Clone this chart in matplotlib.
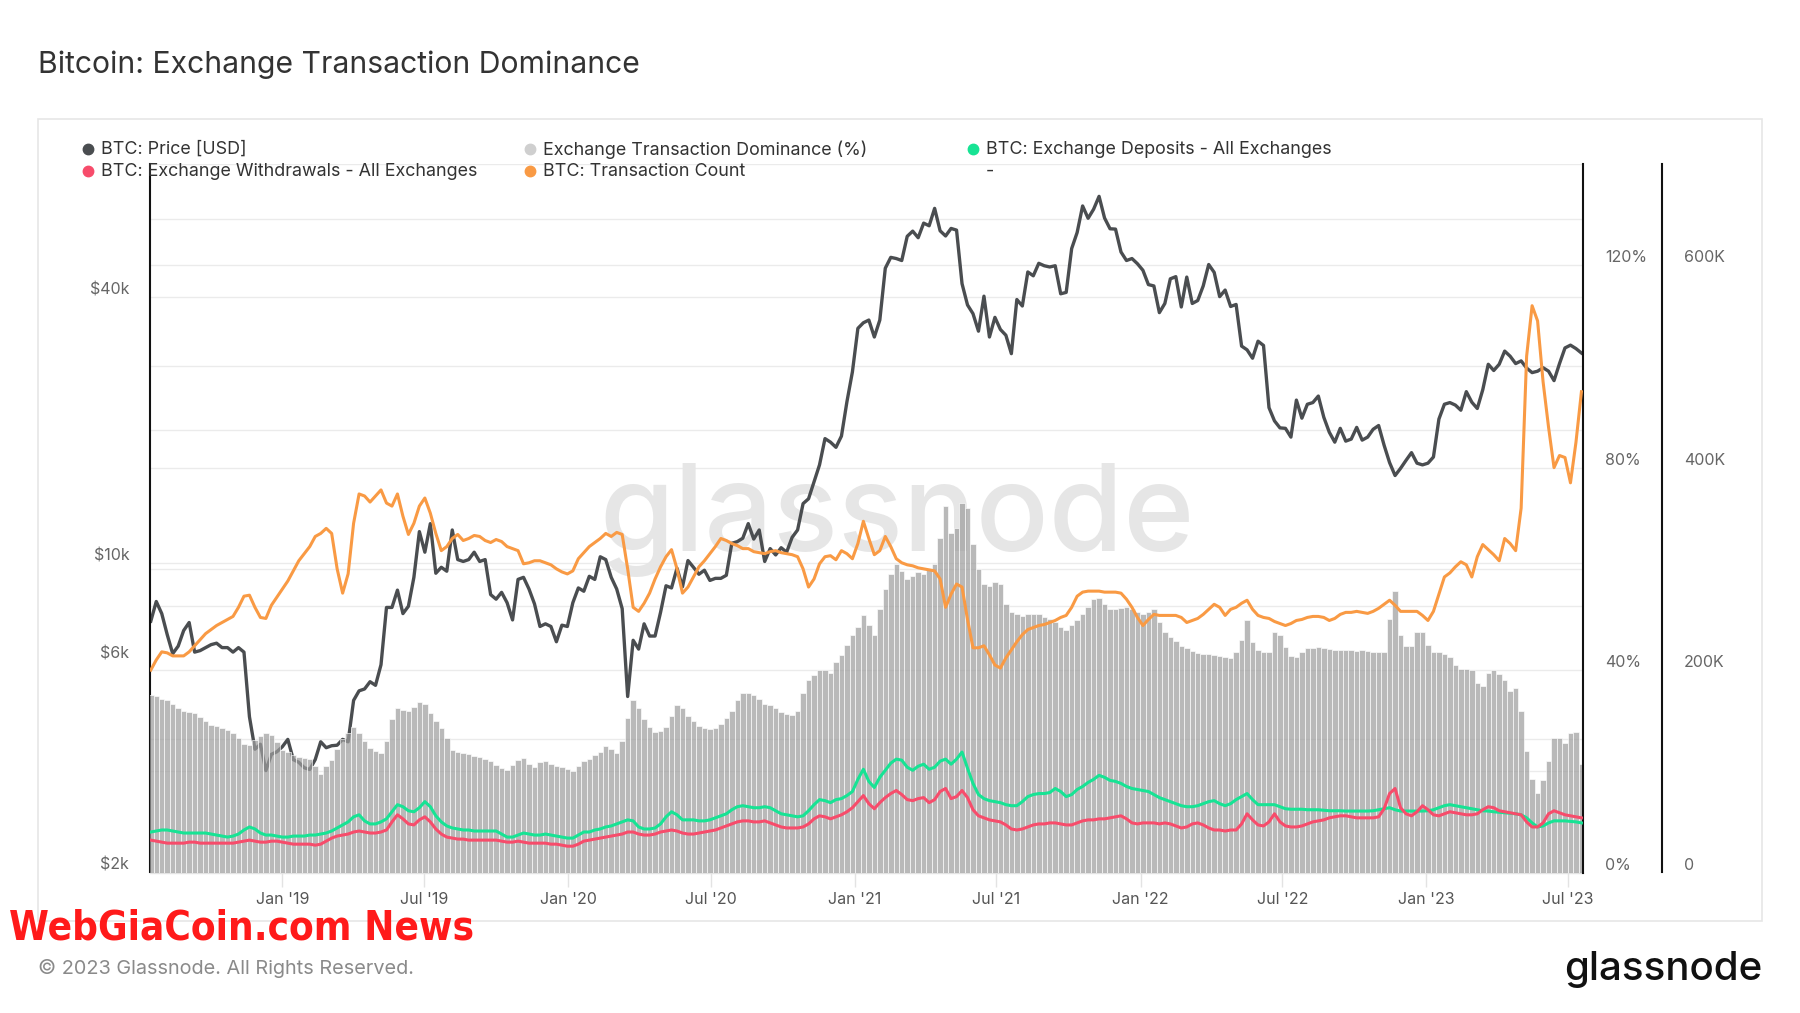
import matplotlib
matplotlib.use("Agg")
import matplotlib.pyplot as plt
from matplotlib.lines import Line2D
from matplotlib.patches import Rectangle
from matplotlib.ticker import FixedLocator, NullLocator
from matplotlib.transforms import blended_transform_factory
import matplotlib.dates as mdates
import pandas as pd

plt.rcParams['font.family'] = ['Inter', 'DejaVu Sans']

# ---------------- data (weekly samples) ----------------
dates = pd.date_range('2018-07-17', periods=262, freq='7D')

price_2018 = [7400, 8200, 7700, 6900, 6250, 6500, 7050, 7350, 6300, 6350, 6450, 6550,
              6600, 6450, 6450, 6300, 6450, 6300, 4500, 3800, 3900, 3400, 3700, 3750]
price_2019 = [3850, 4000, 3600, 3550, 3450, 3420, 3600, 3950, 3830, 3870, 3880, 4000, 3950,
              4900, 5150, 5200, 5400, 5300, 5900, 7950, 7950, 8700, 7700, 8000, 9300, 11800,
              10600, 12300, 9500, 9800, 9600, 11900, 10200, 10100, 10200, 10600, 10100, 10200,
              8500, 8300, 8600, 8150, 7450, 9200, 9300, 8750, 8100, 7200, 7300, 7200, 6650,
              7250, 7200]
price_2020 = [8150, 8800, 8650, 9350, 9200, 10350, 10200, 9300, 8750, 7900, 5000, 6700, 6400,
              7300, 6850, 6850, 7750, 8900, 8800, 9750, 8850, 10150, 9800, 9450, 9650, 9150,
              9250, 9250, 9400, 11100, 11200, 11400, 12300, 11350, 11900, 10100, 10800, 10450,
              10850, 10600, 11450, 11900, 13650, 14000, 15300, 16700, 19150, 18800, 18300,
              19400, 23200, 27100]
price_2021 = [34000, 35000, 35500, 32500, 35500, 46500, 49200, 48900, 48400, 54900, 56400,
              54500, 58800, 58000, 63500, 56500, 55000, 57200, 56700, 42900, 38400, 36700,
              33500, 40200, 32500, 36000, 33800, 32800, 29800, 39500, 38200, 45600, 44700,
              47700, 47100, 46800, 47100, 40700, 41000, 51500, 56000, 64300, 60300, 63200,
              67600, 60400, 57100, 57000, 50600, 48400, 48900, 47600]
price_2022 = [46000, 42700, 42400, 36900, 38700, 44000, 44500, 38000, 44400, 38700, 39300,
              42400, 47400, 45500, 40100, 41500, 38100, 38500, 31000, 30400, 29100, 31800,
              31100, 22500, 21000, 20250, 20200, 19300, 23400, 21300, 22900, 23100, 23900,
              21400, 19800, 18800, 20200, 18900, 19100, 20300, 19000, 19300, 20100, 20500,
              18500, 16900, 15800, 16400, 17100, 17800, 16850, 16700]
price_2023 = [16850, 17400, 21200, 22900, 23100, 22800, 22200, 24450, 23150, 22400, 24700,
              28200, 27300, 28200, 30200, 29400, 28300, 28700, 27650, 27000, 27200, 27700,
              27200, 25900, 28300, 30700, 31150, 30600, 29900]
price_usd = price_2018 + price_2019 + price_2020 + price_2021 + price_2022 + price_2023

dom_2018 = [35.1, 34.8, 34.3, 34.0, 33.2, 32.5, 31.9, 31.7, 31.5, 30.8, 30.0, 29.2, 29.0, 28.6,
            28.2, 27.5, 26.5, 25.4, 25.2, 26.1, 27.0, 27.5, 27.2, 25.8]
dom_2019 = [24.3, 23.8, 23.3, 22.9, 22.7, 22.5, 21.0, 19.5, 21.0, 22.3, 24.5, 26.3, 27.5, 28.8,
            27.5, 26.0, 24.6, 24.0, 23.7, 26.0, 30.3, 32.5, 32.2, 31.9, 32.8, 33.6, 33.2, 31.5,
            30.0, 28.6, 26.5, 24.3, 23.9, 23.7, 23.4, 23.1, 22.8, 22.5, 22.0, 21.3, 20.6, 20.3,
            21.3, 22.2, 22.7, 21.5, 20.8, 21.8, 22.0, 21.5, 21.1, 20.8, 20.4]
dom_2020 = [20.0, 21.0, 22.0, 22.5, 23.2, 23.8, 24.9, 24.4, 23.7, 26.0, 30.5, 34.0, 32.5, 30.3,
            28.8, 27.8, 27.9, 28.8, 31.0, 33.0, 32.6, 31.0, 30.0, 29.0, 28.6, 28.3, 28.5, 29.3,
            30.6, 32.0, 34.0, 35.5, 35.4, 35.0, 34.2, 33.2, 33.0, 32.6, 31.8, 31.4, 31.2, 32.0,
            35.5, 38.0, 39.0, 40.0, 40.0, 39.5, 41.5, 43.0, 45.0, 47.0]
dom_2021 = [48.5, 50.8, 49.0, 47.0, 52.0, 56.0, 59.0, 61.0, 59.5, 58.0, 58.5, 59.3, 59.0, 60.0,
            61.0, 66.0, 72.5, 67.0, 68.0, 73.0, 72.0, 65.0, 60.0, 57.0, 56.6, 57.5, 57.0, 53.0,
            51.5, 51.0, 50.7, 51.0, 51.0, 51.0, 50.5, 50.0, 49.5, 48.5, 48.0, 49.0, 49.8, 51.0,
            52.5, 54.0, 54.3, 53.0, 52.0, 52.0, 52.3, 52.5, 52.0, 51.5]
dom_2022 = [51.0, 51.5, 52.0, 49.5, 47.5, 46.5, 45.8, 44.8, 44.3, 43.8, 43.4, 43.2, 43.1, 43.0,
            42.8, 42.5, 42.3, 43.5, 46.0, 49.8, 45.5, 44.0, 43.5, 43.5, 47.5, 47.0, 44.5, 42.8,
            42.6, 43.5, 44.3, 44.4, 44.5, 44.4, 44.2, 44.0, 43.9, 43.9, 44.0, 43.8, 43.9, 43.8,
            43.6, 43.5, 43.5, 50.0, 55.7, 47.0, 44.7, 44.7, 47.5, 47.5]
dom_2023 = [45.0, 43.5, 43.5, 43.2, 42.5, 41.0, 40.2, 40.2, 40.0, 37.5, 36.8, 39.5, 40.0, 39.2,
            38.0, 35.8, 36.5, 32.0, 24.0, 18.5, 15.7, 18.2, 22.0, 26.5, 26.5, 25.5, 27.5, 27.8,
            21.5]
dominance_pct = dom_2018 + dom_2019 + dom_2020 + dom_2021 + dom_2022 + dom_2023

tx_2018 = [200, 210, 218, 217, 214, 214, 214, 218, 224, 230, 236, 240, 244, 247, 250, 253,
           262, 273, 274, 262, 252, 251, 264, 272]
tx_2019 = [280, 288, 298, 308, 315, 322, 332, 335, 340, 335, 300, 276, 295, 345, 374, 372,
           366, 372, 378, 365, 362, 374, 352, 334, 345, 362, 370, 355, 335, 318, 322, 330,
           334, 328, 330, 333, 332, 328, 326, 329, 327, 322, 320, 318, 305, 306, 308, 308,
           306, 304, 300, 297, 295]
tx_2020 = [298, 310, 316, 322, 326, 330, 335, 332, 336, 334, 300, 262, 258, 266, 276, 290,
           302, 312, 319, 300, 276, 282, 292, 302, 308, 315, 322, 330, 328, 325, 323, 320,
           320, 317, 316, 315, 317, 318, 316, 315, 314, 312, 300, 282, 290, 305, 312, 313,
           309, 318, 315, 310]
tx_2021 = [325, 347, 330, 314, 318, 332, 322, 310, 306, 304, 303, 301, 300, 299, 298, 290,
           262, 275, 285, 282, 250, 222, 222, 224, 215, 205, 202, 212, 220, 228, 235, 240,
           242, 244, 245, 247, 249, 252, 254, 262, 273, 277, 278, 278, 278, 277, 277, 277,
           276, 270, 262, 252]
tx_2022 = [244, 250, 255, 254, 254, 254, 254, 252, 247, 249, 251, 255, 260, 265, 262, 254,
           260, 262, 266, 269, 260, 254, 252, 251, 248, 246, 244, 246, 249, 250, 252, 253,
           253, 252, 249, 251, 255, 257, 257, 258, 257, 256, 258, 261, 265, 269, 264, 258,
           258, 258, 258, 254]
tx_2023 = [249, 258, 275, 292, 296, 302, 307, 304, 292, 312, 324, 319, 314, 308, 330, 325,
           318, 360, 510, 560, 545, 485, 440, 400, 412, 410, 385, 425, 475]
tx_count_k = tx_2018 + tx_2019 + tx_2020 + tx_2021 + tx_2022 + tx_2023

dep_2018 = [40, 41, 42, 42, 41, 40, 39, 39, 39, 39, 39, 38, 37, 36, 35, 36, 38, 42, 45, 43,
            39, 37, 37, 36]
dep_2019 = [35, 35, 36, 36, 36, 37, 37, 38, 39, 41, 44, 47, 50, 55, 57, 51, 48, 48, 50, 53,
            60, 67, 65, 61, 60, 64, 70, 65, 56, 50, 46, 44, 43, 42, 42, 41, 41, 41, 41, 41,
            38, 35, 35, 37, 39, 38, 37, 37, 38, 37, 36, 35, 34]
dep_2020 = [34, 37, 40, 40, 42, 43, 45, 46, 48, 50, 52, 51, 45, 43, 43, 44, 48, 55, 60, 57,
            52, 52, 52, 51, 51, 52, 54, 56, 58, 62, 65, 66, 65, 64, 64, 65, 64, 61, 58, 57,
            56, 55, 56, 61, 67, 72, 71, 69, 72, 73, 76, 80]
dep_2021 = [92, 102, 90, 84, 94, 101, 108, 112, 111, 104, 101, 105, 107, 102, 104, 110, 112,
            107, 112, 119, 103, 88, 77, 73, 71, 70, 69, 67, 66, 66, 70, 75, 77, 78, 78, 79,
            83, 80, 75, 77, 82, 85, 89, 92, 96, 94, 91, 90, 88, 85, 83, 82]
dep_2022 = [81, 80, 77, 74, 72, 70, 68, 66, 65, 65, 66, 68, 70, 71, 68, 66, 68, 72, 75, 78,
            72, 67, 67, 67, 67, 65, 63, 62.5, 62.5, 62.5, 62, 62, 62, 61.5, 61, 61, 61, 60.7,
            60.7, 60.7, 60.7, 60.7, 61, 62, 63, 64, 62, 60.7, 60.7, 60.7, 60.7, 60.7]
dep_2023 = [61, 62, 64, 66, 67, 66, 65, 64, 63, 62, 61, 60.7, 60, 59.5, 59, 58.5, 58, 57, 54,
            49, 45, 46, 49, 51, 51, 51, 50.5, 50, 49]
deposits_k = dep_2018 + dep_2019 + dep_2020 + dep_2021 + dep_2022 + dep_2023

wd_2018 = [32, 31, 30, 29, 29, 29, 29, 30, 30, 29, 29, 29, 29, 29, 29, 29, 30, 31, 32, 31,
           30, 30, 31, 31]
wd_2019 = [30, 29, 28, 28, 28, 28, 27, 28, 31, 34, 36, 37, 38, 40, 41, 40, 39, 39, 40, 42,
           50, 57, 53, 48, 47, 52, 55, 50, 43, 38, 35, 34, 33, 33, 32, 32, 32, 32, 32, 32,
           31, 30, 30, 31, 30, 29, 29, 29, 29, 28, 28, 27, 26]
wd_2020 = [26, 28, 31, 32, 33, 34, 35, 36, 37, 38, 40, 40, 38, 37, 37, 38, 40, 41, 42, 41,
           39, 38, 38, 39, 40, 41, 42, 44, 46, 48, 50, 51, 51, 50, 50, 51, 49, 47, 45, 44,
           44, 44, 45, 48, 53, 56, 55, 53, 55, 57, 60, 64]
wd_2021 = [70, 76, 68, 63, 69, 74, 78, 81, 77, 72, 71, 73, 74, 69, 72, 80, 83, 73, 75, 81,
           74, 62, 56, 54, 52, 51, 50, 47, 43, 42, 43, 45, 47, 48, 48, 49, 49, 48, 47, 47,
           49, 51, 52, 52, 53, 53, 54, 55, 56, 53, 49, 48]
wd_2022 = [49, 49, 49, 48, 49, 48, 46, 44, 45, 48, 49, 47, 44, 42, 42, 41, 42, 42, 48, 58,
           52, 47, 46, 50, 58, 50, 46, 45, 45, 46, 48, 50, 51, 52, 54, 55, 56, 56, 55, 54,
           54, 54, 54, 55, 63, 78, 83, 64, 58, 56, 60, 66]
wd_2023 = [62, 57, 56, 58, 60, 59, 58, 57, 57, 58, 62, 65, 64, 61, 60, 59, 58, 57, 50, 45,
           45, 49, 58, 61, 59, 57, 56, 55, 54]
withdrawals_k = wd_2018 + wd_2019 + wd_2020 + wd_2021 + wd_2022 + wd_2023

x_tick_dates = pd.to_datetime(['2019-01-01', '2019-07-01', '2020-01-01', '2020-07-01',
                               '2021-01-01', '2021-07-01', '2022-01-01', '2022-07-01',
                               '2023-01-01', '2023-07-01'])
x_tick_labels = ["Jan '19", "Jul '19", "Jan '20", "Jul '20", "Jan '21", "Jul '21",
                 "Jan '22", "Jul '22", "Jan '23", "Jul '23"]
price_ticks = [2000, 6000, 10000, 40000]
price_tick_labels = ['$2k', '$6k', '$10k', '$40k']
price_grid = [4000, 8000, 10000, 20000, 40000, 60000]
pct_ticks = [0, 40, 80, 120]
pct_tick_labels = ['0%', '40%', '80%', '120%']
pct_grid = [20, 40, 60, 80, 100, 120, 140]
cnt_ticks = [0, 200, 400, 600]
cnt_tick_labels = ['0', '200K', '400K', '600K']

# ---------------- colours ----------------
C_PRICE = '#4a4d50'
C_DOM = '#9e9e9e'
C_DOM_LEG = '#cfcfcf'
C_DEP = '#17e394'
C_WD = '#f74c6b'
C_TX = '#f99a44'
C_GRID = '#ebebeb'
C_TICK = '#666666'

W, H = 1800, 1013
fig = plt.figure(figsize=(18, 10.13), dpi=100)
fig.patch.set_facecolor('white')

def fx(px):
    return px / W

def fy(py):
    return 1 - py / H

ax_p = fig.add_axes([fx(150), fy(872.5), fx(1583) - fx(150), fy(164) - fy(872.5)])
ax_d = ax_p.twinx()
ax_c = ax_p.twinx()
ax_p.set_zorder(1)
ax_d.set_zorder(2)
ax_c.set_zorder(3)
ax_d.patch.set_visible(False)
ax_c.patch.set_visible(False)

x0 = pd.Timestamp('2018-07-16')
x1 = pd.Timestamp('2023-07-20')

# ---- price axis (log) ----
ax_p.set_yscale('log')
ax_p.set_ylim(2000, 80000)
ax_p.set_xlim(x0, x1)
for v in price_grid:
    ax_p.axhline(v, color=C_GRID, lw=1.0, zorder=0)
# percent gridlines drawn at the price-axis level (below the price line)
bt = blended_transform_factory(ax_p.transAxes, ax_d.transData)
for v in pct_grid:
    ax_p.add_artist(Line2D([0, 1], [v, v], transform=bt, color=C_GRID, lw=1.0, zorder=0.1))
ax_p.text(0.521, 0.497, 'glassnode', transform=ax_p.transAxes, fontsize=87,
          color='#e6e6e6', ha='center', va='center', fontweight='medium', zorder=0.2)
ax_p.plot(dates, price_usd, color=C_PRICE, lw=2.4, zorder=2, solid_joinstyle='round')

ax_p.yaxis.set_major_locator(FixedLocator(price_ticks))
ax_p.yaxis.set_minor_locator(NullLocator())
ax_p.set_yticklabels(price_tick_labels, va='bottom')
ax_p.tick_params(axis='y', which='both', length=0, pad=15, labelsize=11.5, labelcolor=C_TICK)

ax_p.xaxis.set_major_locator(FixedLocator(mdates.date2num(x_tick_dates)))
ax_p.xaxis.set_minor_locator(NullLocator())
ax_p.set_xticklabels(x_tick_labels)
ax_p.tick_params(axis='x', length=10, width=1, color='#e3e3e3', pad=4,
                 labelsize=11.5, labelcolor='#555555')

for s in ['top', 'right']:
    ax_p.spines[s].set_visible(False)
ax_p.spines['left'].set_color('#111111')
ax_p.spines['left'].set_linewidth(1.5)
ax_p.spines['bottom'].set_color('#e3e3e3')
ax_p.spines['bottom'].set_linewidth(1.0)

# ---- dominance axis (%) ----
ax_d.set_ylim(0, 140)
ax_d.bar(dates, dominance_pct, width=7.0, color=C_DOM, alpha=0.72,
         edgecolor=(1, 1, 1, 0.55), linewidth=0.6, zorder=1)
ax_d.yaxis.set_major_locator(FixedLocator(pct_ticks))
ax_d.set_yticklabels(pct_tick_labels, va='bottom')
ax_d.tick_params(axis='y', length=0, pad=16, labelsize=11.5, labelcolor=C_TICK)
for s in ['top', 'left', 'bottom']:
    ax_d.spines[s].set_visible(False)
ax_d.spines['right'].set_color('#111111')
ax_d.spines['right'].set_linewidth(1.5)

# ---- count axis (K) ----
ax_c.set_ylim(0, 700)
ax_c.spines['right'].set_position(('axes', (1662 - 150) / (1583 - 150)))
ax_c.plot(dates, deposits_k, color=C_DEP, lw=2.2, zorder=2)
ax_c.plot(dates, withdrawals_k, color=C_WD, lw=2.2, zorder=3)
ax_c.plot(dates, tx_count_k, color=C_TX, lw=2.2, zorder=4)
ax_c.yaxis.set_major_locator(FixedLocator(cnt_ticks))
ax_c.set_yticklabels(cnt_tick_labels, va='bottom')
ax_c.tick_params(axis='y', length=0, pad=16, labelsize=11.5, labelcolor=C_TICK)
for s in ['top', 'left', 'bottom']:
    ax_c.spines[s].set_visible(False)
ax_c.spines['right'].set_color('#111111')
ax_c.spines['right'].set_linewidth(1.5)
ax_c.set_xlim(x0, x1)

# ---------------- frame, title, legend, footer ----------------
fig.patches.append(Rectangle((fx(38), fy(921)), fx(1762) - fx(38), fy(119) - fy(921),
                             transform=fig.transFigure, fill=False,
                             edgecolor='#e6e6e6', linewidth=1.2, zorder=0))

fig.text(fx(38), fy(65), 'Bitcoin: Exchange Transaction Dominance', fontsize=21.7,
         color='#333333', ha='left', va='center')

legend_items = [
    (88, 149.5, C_PRICE, 'BTC: Price [USD]'),
    (88, 171, C_WD, 'BTC: Exchange Withdrawals - All Exchanges'),
    (530, 149.5, C_DOM_LEG, 'Exchange Transaction Dominance (%)'),
    (530, 171, C_TX, 'BTC: Transaction Count'),
    (973, 149.5, C_DEP, 'BTC: Exchange Deposits - All Exchanges'),
    (973, 171, None, '-'),
]
for mx, my, col, lab in legend_items:
    if col is not None:
        fig.add_artist(Line2D([fx(mx)], [fy(my)], marker='o', markersize=7.5,
                              color=col, linestyle='none', transform=fig.transFigure))
    fig.text(fx(mx + 13), fy(my), lab, fontsize=12.9, color='#333333',
             ha='left', va='center')

fig.text(fx(38), fy(968), '\u00a9 2023 Glassnode. All Rights Reserved.', fontsize=14.3,
         color='#8a8a8a', ha='left', va='center')
fig.text(fx(1762), fy(969), 'glassnode', fontsize=29, color='#111111', ha='right',
         va='center', fontweight='medium')
fig.text(fx(9), fy(928), 'WebGiaCoin.com News', fontsize=29, color='#ff1a1a',
         ha='left', va='center', fontweight='bold', fontstretch='condensed',
         family=['DejaVu Sans'])

fig.savefig('out.png', dpi=100, facecolor='white')
